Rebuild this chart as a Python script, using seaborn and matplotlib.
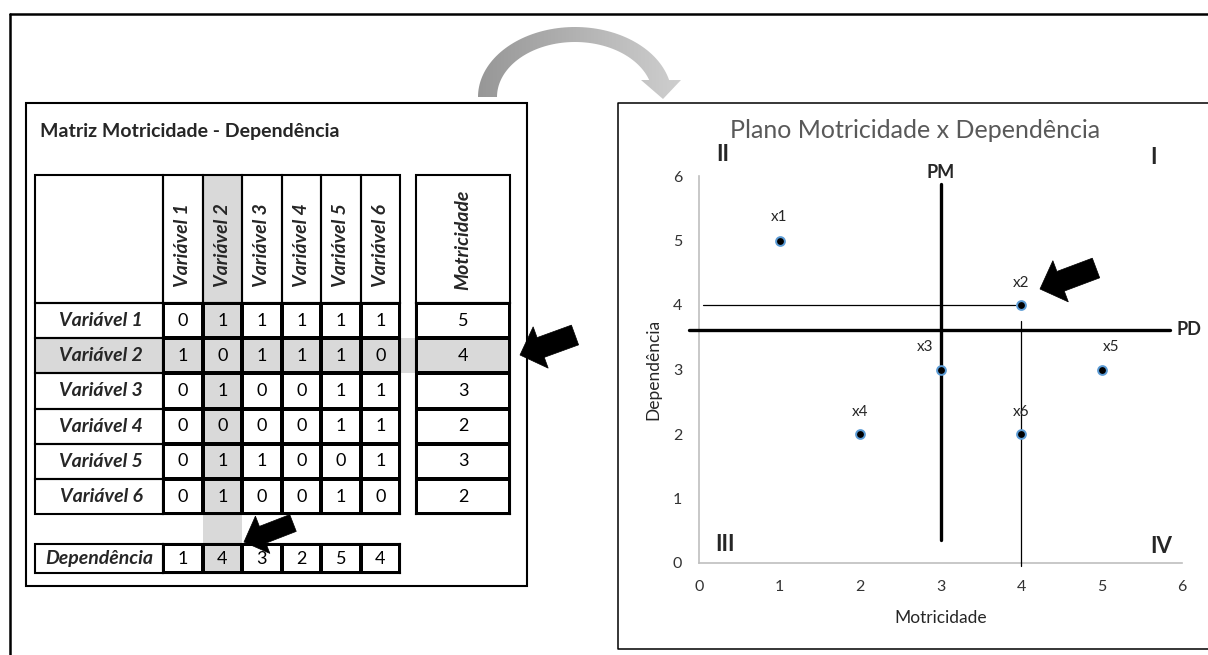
import numpy as np
import matplotlib
matplotlib.use("Agg")
import matplotlib.pyplot as plt
from matplotlib.colors import ListedColormap, LinearSegmentedColormap
from matplotlib.patches import Rectangle, FancyArrow, Polygon
import seaborn as sns

# dados
variaveis = ["Variável 1", "Variável 2", "Variável 3", "Variável 4", "Variável 5", "Variável 6"]
matriz = [
    [0, 1, 1, 1, 1, 1],
    [1, 0, 1, 1, 1, 0],
    [0, 1, 0, 0, 1, 1],
    [0, 0, 0, 0, 1, 1],
    [0, 1, 1, 0, 0, 1],
    [0, 1, 0, 0, 1, 0],
]
motricidade = [5, 4, 3, 2, 3, 2]
dependencia = [1, 4, 3, 2, 5, 4]
rotulos = ["x1", "x2", "x3", "x4", "x5", "x6"]
destaque = 1          # Variável 2 em destaque
pm = 3.0              # linha PM (vertical)
pd_ = 3.62            # linha PD (horizontal)
ticks = [0, 1, 2, 3, 4, 5, 6]
quadrantes = {"II": (0.3, 6.33), "I": (5.65, 6.28), "III": (0.32, 0.28), "IV": (5.74, 0.25)}

sns.set_style("white")
plt.rcParams["font.family"] = ["Lato", "DejaVu Sans"]

W, H = 1208, 655
CINZA = "#d9d9d9"
fig = plt.figure(figsize=(W / 100, H / 100), dpi=100)


def caixa(x0, y0, x1, y1):
    # caixa em pixels (origem em cima à esquerda) -> fração da figura
    return [x0 / W, 1 - y1 / H, (x1 - x0) / W, (y1 - y0) / H]


# ---------------- fundo: molduras, células de rótulo, faixas cinza
bg = fig.add_axes([0, 0, 1, 1])
bg.set_xlim(0, W)
bg.set_ylim(H, 0)
bg.axis("off")

bg.plot([10, W], [14, 14], color="black", lw=1.8, clip_on=False)
bg.plot([10, 10], [14, H], color="black", lw=1.8, clip_on=False)
bg.add_patch(Rectangle((26, 103), 501, 483, fill=False, ec="black", lw=1.5))
bg.plot([W, 618, 618, W], [103, 103, 649, 649], color="black", lw=1.1)

bg.text(40, 131, "Matriz Motricidade - Dependência", fontsize=14, fontweight="bold", va="center")

x_lab, w_lab = 35, 128
x_mat, w_col = 163, 39.5
x_mot, w_mot = 416, 94
y_hdr, h_hdr = 175, 128
y_mat, h_row = 303, 35.2
y_dep, h_dep = 544, 29
n = len(variaveis)
lw_cel = 1.5
fs_tab = 14

# faixas cinza (coluna e linha em destaque, incluindo os vãos)
xc = x_mat + destaque * w_col
bg.add_patch(Rectangle((xc, y_hdr), w_col, y_dep + h_dep - y_hdr, fc=CINZA, ec="none"))
yr = y_mat + destaque * h_row
bg.add_patch(Rectangle((x_lab, yr), x_mot + w_mot - x_lab, h_row, fc=CINZA, ec="none"))

# cabeçalho
bg.add_patch(Rectangle((x_lab, y_hdr), w_lab, h_hdr, fill=False, ec="black", lw=lw_cel))
for j, v in enumerate(variaveis):
    x0 = x_mat + j * w_col
    bg.add_patch(Rectangle((x0, y_hdr), w_col, h_hdr, fill=False, ec="black", lw=lw_cel))
    bg.text(x0 + w_col / 2, 287, v, rotation=90, ha="center", va="bottom",
            fontsize=fs_tab, fontweight="bold", style="italic")
bg.add_patch(Rectangle((x_mot, y_hdr), w_mot, h_hdr, fill=False, ec="black", lw=lw_cel))
bg.text(x_mot + w_mot / 2, 290, "Motricidade", rotation=90, ha="center", va="bottom",
        fontsize=fs_tab, fontweight="bold", style="italic")

# coluna de rótulos
for i, v in enumerate(variaveis):
    y0 = y_mat + i * h_row
    bg.add_patch(Rectangle((x_lab, y0), w_lab, h_row, fill=False, ec="black", lw=lw_cel))
    bg.text(x_lab + w_lab / 2 + 2, y0 + h_row / 2, v, ha="center", va="center",
            fontsize=fs_tab, fontweight="bold", style="italic")
bg.add_patch(Rectangle((x_lab, y_dep), w_lab, h_dep, fill=False, ec="black", lw=lw_cel))
bg.text(x_lab + w_lab / 2, y_dep + h_dep / 2, "Dependência", ha="center", va="center",
        fontsize=fs_tab, fontweight="bold", style="italic")

# ---------------- tabelas com heatmap
cmap_tab = ListedColormap(["white", CINZA])
mat = np.array(matriz)
real = np.zeros_like(mat)
real[destaque, :] = 1
real[:, destaque] = 1


def tabela(ax, dados, marca):
    sns.heatmap(marca, annot=np.array(dados), fmt="d", cmap=cmap_tab, vmin=0, vmax=1,
                cbar=False, linewidths=lw_cel, linecolor="black",
                xticklabels=False, yticklabels=False,
                annot_kws=dict(fontsize=13, color="black"), ax=ax)
    for s in ax.spines.values():
        s.set_visible(True)
        s.set_linewidth(lw_cel)
        s.set_color("black")


ax_m = fig.add_axes(caixa(x_mat, y_mat, x_mat + n * w_col, y_mat + n * h_row))
tabela(ax_m, mat, real)

mot_marca = np.zeros((n, 1))
mot_marca[destaque, 0] = 1
ax_mot = fig.add_axes(caixa(x_mot, y_mat, x_mot + w_mot, y_mat + n * h_row))
tabela(ax_mot, np.array(motricidade).reshape(-1, 1), mot_marca)

dep_marca = np.zeros((1, n))
dep_marca[0, destaque] = 1
ax_dep = fig.add_axes(caixa(x_mat, y_dep, x_mat + n * w_col, y_dep + h_dep))
tabela(ax_dep, np.array(dependencia).reshape(1, -1), dep_marca)

# ---------------- gráfico
ax = fig.add_axes(caixa(699, 176, 1182, 563))
ax.set_facecolor("none")
ax.axhline(pd_, xmin=-0.02, xmax=0.975, color="black", lw=2.4, clip_on=False, zorder=3)
ax.plot([pm, pm], [0.35, 5.88], color="black", lw=2.4, zorder=3)
ax.plot([0.05, dependencia[destaque] - 0.07], [motricidade[destaque]] * 2, color="black", lw=0.9, zorder=3)
ax.plot([dependencia[destaque]] * 2, [-0.04, motricidade[destaque] - 0.25], color="black", lw=0.9,
        clip_on=False, zorder=3)

sns.scatterplot(x=dependencia, y=motricidade, ax=ax, color="black", edgecolor="#5b9bd5",
                linewidth=1.4, s=40, zorder=5)

desloc = [(0, 17), (0, 16), (-11, 16), (0, 16), (7, 16), (0, 16)]
for i, r in enumerate(rotulos):
    ax.annotate(r, (dependencia[i], motricidade[i]), xytext=desloc[i], textcoords="offset points",
                ha="center", va="center", fontsize=11, color="#262626")

ax.set_xlim(0, 6)
ax.set_ylim(0, 6)
ax.set_xticks(ticks)
ax.set_yticks(ticks)
ax.tick_params(length=0, pad=12, labelsize=11.5, labelcolor="#333333")
sns.despine(ax=ax)
for s in ["left", "bottom"]:
    ax.spines[s].set_color("#bfbfbf")
    ax.spines[s].set_linewidth(1.2)
ax.set_xlabel("Motricidade", fontsize=12.5, labelpad=12, color="#262626")
ax.set_ylabel("Dependência", fontsize=12.5, labelpad=8, color="#262626")
ax.text(0.447, 1.118, "Plano Motricidade x Dependência", transform=ax.transAxes,
        ha="center", va="center", fontsize=18, color="#595959")
ax.text(pm, 6.06, "PM", ha="center", va="center", fontsize=13, fontweight="bold")
ax.text(6.09, pd_, "PD", ha="center", va="center", fontsize=13, fontweight="bold", clip_on=False)
for q, (qx, qy) in quadrantes.items():
    ax.text(qx, qy, q, ha="center", va="center", fontsize=16, fontweight="bold")

# ---------------- camada de cima: setas
top = fig.add_axes([0, 0, 1, 1])
top.axis("off")

cx, cy = 575, 97
t_out = np.linspace(np.pi, np.radians(14), 80)
t_in = np.linspace(np.radians(18), np.pi, 80)
externo = np.c_[cx + 97 * np.cos(t_out), cy - 70 * np.sin(t_out)]
interno = np.c_[cx + 78 * np.cos(t_in), cy - 55 * np.sin(t_in)]
ponta = np.array([[681, 80], [663, 99], [641, 80]])
curva = Polygon(np.vstack([externo, ponta, interno]), closed=True, fc="none", ec="none")
top.add_patch(curva)
grad = np.linspace(0, 1, 256).reshape(1, -1)
im = top.imshow(grad, extent=(475, 685, 100, 20), aspect="auto",
                cmap=LinearSegmentedColormap.from_list("g", ["#969696", "#d0d0d0"]))
im.set_clip_path(curva)

setas = [((575, 335), (520, 355), 21, 44, 22),
         ((293, 523), (244, 542), 18, 40, 20),
         ((1096, 268), (1040, 289), 21, 44, 22)]
for (x0, y0), (x1, y1), larg, cab, comp in setas:
    top.add_patch(FancyArrow(x0, y0, x1 - x0, y1 - y0, width=larg, head_width=cab,
                             head_length=comp, length_includes_head=True,
                             fc="black", ec="black", lw=0.5))

top.set_xlim(0, W)
top.set_ylim(H, 0)

fig.savefig("out.png", dpi=100)
